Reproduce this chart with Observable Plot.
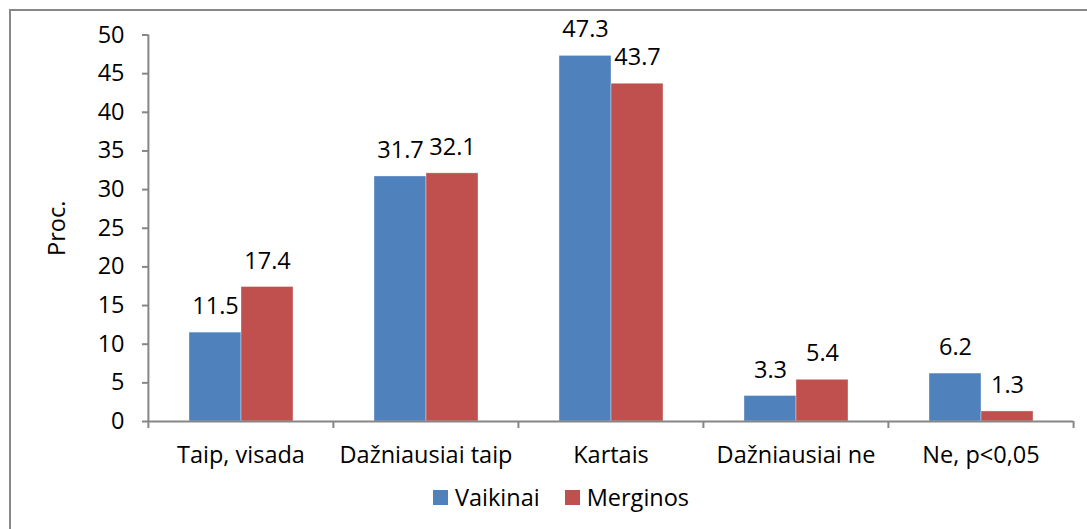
<!DOCTYPE html>
<html>
<head>
<meta charset="utf-8">
<script src="https://cdn.jsdelivr.net/npm/d3@7"></script>
<script src="https://cdn.jsdelivr.net/npm/@observablehq/plot@0.6"></script>
<style>
  html, body { margin: 0; padding: 0; background: #fff; overflow: hidden; }
  body { width: 1087px; height: 529px; position: relative; font-family: "Open Sans", sans-serif; }
  #frame { position: absolute; left: 9px; top: 9px; width: 1200px; height: 700px;
           border-top: 2px solid #888; border-left: 2px solid #888; box-sizing: border-box; }
  #chart { position: absolute; left: 0; top: 0; }
  #legend { position: absolute; left: 433px; top: 481px; display: flex; align-items: center;
            font-size: 23.5px; color: #000; }
  #legend .item { display: flex; align-items: center; margin-right: 25px; }
  #legend .sw { width: 15px; height: 15px; margin-right: 7px; }
</style>
</head>
<body>
<div id="frame"></div>
<div id="chart"></div>
<div id="legend"></div>
<script>
const categories = ["Taip, visada", "Dažniausiai taip", "Kartais", "Dažniausiai ne", "Ne, p<0,05"];
const series = ["Vaikinai", "Merginos"];
const vaikinai = [11.5, 31.7, 47.3, 3.3, 6.2];
const merginos = [17.4, 32.1, 43.7, 5.4, 1.3];
const yTicks = [0, 5, 10, 15, 20, 25, 30, 35, 40, 45, 50];
const colors = ["#4F81BD", "#C0504D"];
const yLabel = "Proc.";

const data = [];
categories.forEach((c, i) => {
  data.push({category: c, series: series[0], value: vaikinai[i]});
  data.push({category: c, series: series[1], value: merginos[i]});
});

const W = 1087, H = 480;
const mL = 147, mR = 14, mT = 34.5, mB = 59;
const step = (W - mL - mR) / categories.length;
const FS = 23.5;
const fmt = d3.format(".1f");
const gray = "#868686";

const chart = Plot.plot({
  width: W, height: H,
  marginTop: mT, marginBottom: mB, marginLeft: mL, marginRight: mR,
  style: {fontFamily: "'Open Sans', sans-serif", fontSize: FS + "px", color: "#000", background: "transparent", overflow: "visible"},
  fx: {domain: categories, padding: 0, label: null},
  x: {domain: series, paddingInner: 0, paddingOuter: 0.747, axis: null},
  y: {domain: [0, 50]},
  color: {domain: series, range: colors},
  marks: [
    Plot.barY(data, {fx: "category", x: "series", y: "value", fill: "series", stroke: "#fff", strokeWidth: 0.6, strokeOpacity: 0.6}),
    Plot.ruleY([0], {stroke: gray, strokeWidth: 2}),
    Plot.ruleX([categories[0]], {fx: d => d, x: null, y1: 0, y2: 50, dx: -step / 2, stroke: gray, strokeWidth: 2}),
    Plot.axisY({ticks: yTicks, tickSize: 6, tickPadding: 18, stroke: gray, strokeWidth: 2,
                label: yLabel, labelAnchor: "center", labelArrow: "none", labelOffset: 100, fontSize: FS, fill: "#000"}),
    Plot.axisFx({anchor: "bottom", tickSize: 0, tickPadding: 25, label: null, fontSize: FS, fill: "#000"}),
    Plot.axisFx({anchor: "bottom", tickSize: 7, tickFormat: () => "", label: null, dx: -step / 2, stroke: gray, strokeWidth: 2}),
    Plot.axisFx({anchor: "bottom", ticks: [categories[categories.length - 1]], tickSize: 7, tickFormat: () => "", label: null, dx: step / 2, stroke: gray, strokeWidth: 2}),
    Plot.text(data, {fx: "category", x: "series", y: "value", text: d => fmt(d.value), dy: -26, fontSize: FS, fill: "#000"})
  ]
});
document.getElementById("chart").appendChild(chart);

const legend = document.getElementById("legend");
series.forEach((s, i) => {
  const item = document.createElement("div");
  item.className = "item";
  const sw = document.createElement("div");
  sw.className = "sw";
  sw.style.background = colors[i];
  const t = document.createElement("span");
  t.textContent = s;
  item.appendChild(sw); item.appendChild(t);
  legend.appendChild(item);
});
</script>
</body>
</html>
